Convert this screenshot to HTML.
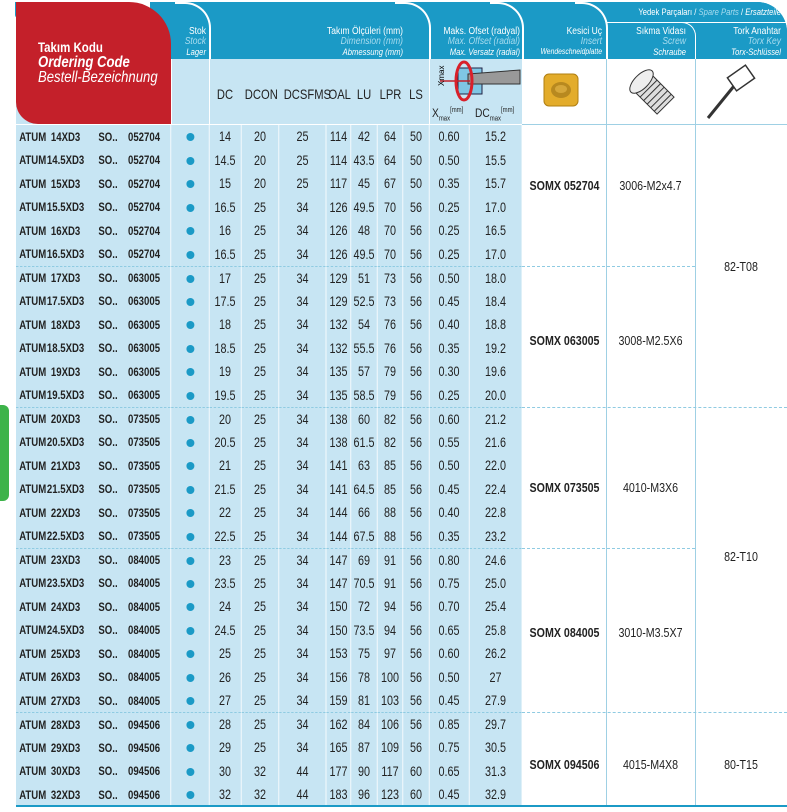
<!DOCTYPE html>
<html><head><meta charset="utf-8">
<style>
*{margin:0;padding:0;box-sizing:border-box}
body{width:787px;height:812px;background:#fff;position:relative;overflow:hidden;font-family:"Liberation Sans",sans-serif;color:#222}
.abs{position:absolute}
.blue{background:#1b9ac6}
.lb{background:#c7e5f3}
table{position:absolute;left:16px;top:125px;width:632.5px;border-collapse:collapse;table-layout:fixed;font-size:13.5px;transform:scaleX(0.8);transform-origin:0 0}
td{height:23.5px;text-align:center;border-right:1.25px solid #fff;padding:0;white-space:nowrap;overflow:visible}
td.c{text-align:left;font-weight:bold;font-size:12px;padding-left:4px}
td.c span{display:inline-block}
.s1{width:34px}.s2{width:48px;text-align:center}.s3{width:54px;padding-left:17px}
tr.g td{border-top:1px dashed #8fcbe2}
.dot{display:inline-block;width:10px;height:8px;border-radius:50%;background:#1b9ac6}
.hd{font-size:14px;text-align:center;transform:scaleX(.8);white-space:nowrap}
.wt{color:#fff;font-size:10px;text-align:right;line-height:10px;white-space:nowrap;transform:scaleX(.85);transform-origin:right top}
.rc{position:absolute;font-size:13px;text-align:center;white-space:nowrap;transform:scaleX(.82)}
</style></head><body>
<div class="abs" style="left:0;top:405px;width:9px;height:96px;background:#3db34a;border-radius:0 6px 6px 0"></div>
<div class="abs lb" style="left:16px;top:59px;width:506px;height:747px"></div>
<div class="abs blue" style="left:150px;top:2px;width:637px;height:57px;border-top-right-radius:30px"></div>
<div class="abs blue" style="left:606px;top:2px;width:181px;height:122px;border-top-right-radius:30px"></div>
<div class="abs" style="left:606px;top:59px;width:181px;height:65px;background:#fff"></div>
<div class="abs" style="left:522px;top:59px;width:84px;height:65px;background:#fff"></div>
<div class="abs" style="left:175px;top:2px;width:36px;height:57px;border-top:2px solid #fff;border-right:2px solid #fff;border-top-right-radius:26px"></div>
<div class="abs" style="left:395px;top:2px;width:36px;height:57px;border-top:2px solid #fff;border-right:2px solid #fff;border-top-right-radius:26px"></div>
<div class="abs" style="left:490px;top:2px;width:34px;height:57px;border-top:2px solid #fff;border-right:2px solid #fff;border-top-right-radius:26px"></div>
<div class="abs" style="left:575px;top:2px;width:33px;height:57px;border-top:2px solid #fff;border-right:2px solid #fff;border-top-right-radius:26px"></div>
<div class="abs" style="left:606px;top:22px;width:181px;height:1px;background:#fff"></div>
<div class="abs" style="left:660px;top:22px;width:36px;height:37px;border-top:1px solid #fff;border-right:1px solid #fff;border-top-right-radius:14px"></div>
<div class="abs blue" style="left:13px;top:0;width:23px;height:20px;border-radius:0 0 5px 5px;border:2px solid #fff"></div>
<div class="abs" style="left:16px;top:2px;width:155px;height:122px;background:#c4202a;border-top-right-radius:42px;border-bottom-left-radius:22px"></div>
<div class="abs" style="left:38px;top:40px;color:#fff;line-height:15px;white-space:nowrap;transform:scaleX(.82);transform-origin:0 0">
<div style="font-weight:bold;font-size:14px">Takım Kodu</div>
<div style="font-weight:bold;font-style:italic;font-size:16px">Ordering Code</div>
<div style="font-style:italic;font-size:16px">Bestell-Bezeichnung</div></div>
<div class="abs wt" style="left:171px;top:27px;width:35px">Stok<br><i style="color:#a8dcef">Stock</i><br><i style="font-size:9px">Lager</i></div>
<div class="abs wt" style="left:230px;top:27px;width:173px">Takım Ölçüleri (mm)<br><i style="color:#a8dcef">Dimension (mm)</i><br><i style="font-size:9px">Abmessung (mm)</i></div>
<div class="abs wt" style="left:425px;top:27px;width:95px">Maks. Ofset (radyal)<br><i style="color:#a8dcef">Max. Offset (radial)</i><br><i style="font-size:9px">Max. Versatz (radial)</i></div>
<div class="abs wt" style="left:520px;top:27px;width:82px">Kesici Uç<br><i style="color:#a8dcef">Insert</i><br><i style="font-size:8px">Wendeschneidplatte</i></div>
<div class="abs wt" style="left:606px;top:7px;width:175px;font-size:9px">Yedek Parçaları / <i style="color:#a8dcef">Spare Parts</i> / <i>Ersatzteile</i></div>
<div class="abs wt" style="left:606px;top:27px;width:80px">Sıkma Vidası<br><i style="color:#a8dcef">Screw</i><br><i style="font-size:9px">Schraube</i></div>
<div class="abs wt" style="left:695px;top:27px;width:86px">Tork Anahtar<br><i style="color:#a8dcef">Torx Key</i><br><i style="font-size:9px">Torx-Schlüssel</i></div>
<div class="abs hd" style="left:209px;top:86px;width:32px">DC</div>
<div class="abs hd" style="left:241px;top:86px;width:38px">DCON</div>
<div class="abs hd" style="left:279px;top:86px;width:47px">DCSFMS</div>
<div class="abs hd" style="left:326px;top:86px;width:25px">OAL</div>
<div class="abs hd" style="left:351px;top:86px;width:26px">LU</div>
<div class="abs hd" style="left:377px;top:86px;width:26px">LPR</div>
<div class="abs hd" style="left:403px;top:86px;width:26px">LS</div>
<div class="abs" style="left:432px;top:106px;font-size:12px;transform:scaleX(.85);transform-origin:0 0">X<sub style="font-size:7px">max</sub><sup style="font-size:7px">[mm]</sup></div>
<div class="abs" style="left:475px;top:106px;font-size:12px;transform:scaleX(.85);transform-origin:0 0">DC<sub style="font-size:7px">max</sub><sup style="font-size:7px">[mm]</sup></div>
<svg class="abs" style="left:430px;top:60px" width="92" height="45">
<rect x="28" y="8" width="24" height="26" fill="#7fc6e4" stroke="#224" stroke-width="1"/>
<polygon points="38,14 90,10 90,24 38,24" fill="#999" stroke="#333" stroke-width="1"/>
<line x1="10" y1="21" x2="40" y2="21" stroke="#c4202a" stroke-width="1.5"/>
<ellipse cx="34" cy="21" rx="8" ry="19" fill="none" stroke="#d9202a" stroke-width="3"/>
<text x="14" y="26" font-size="8" transform="rotate(-90 14 26)" font-family="Liberation Sans">Xmax</text>
</svg>
<svg class="abs" style="left:542px;top:72px" width="38" height="36"><rect x="2" y="2" width="34" height="32" rx="5" fill="#e3ac2b" stroke="#b07f12"/><ellipse cx="19" cy="18" rx="10" ry="8" fill="#b8891f"/><ellipse cx="19" cy="17" rx="6" ry="4" fill="#d6a73a"/></svg>
<svg class="abs" style="left:620px;top:62px" width="60" height="55"><g transform="rotate(-45 30 28)"><rect x="18" y="20" width="24" height="30" fill="#ddd" stroke="#333"/><g stroke="#333"><line x1="18" y1="26" x2="42" y2="26"/><line x1="18" y1="31" x2="42" y2="31"/><line x1="18" y1="36" x2="42" y2="36"/><line x1="18" y1="41" x2="42" y2="41"/><line x1="18" y1="46" x2="42" y2="46"/></g><ellipse cx="30" cy="16" rx="15" ry="7" fill="#eee" stroke="#333"/></g></svg>
<svg class="abs" style="left:700px;top:62px" width="60" height="60"><line x1="8" y1="56" x2="34" y2="24" stroke="#333" stroke-width="3"/><rect x="30" y="8" width="22" height="16" fill="#fff" stroke="#333" stroke-width="1.5" transform="rotate(-35 41 16)"/></svg>

<table>
<colgroup><col style="width:193.75px"><col style="width:47.5px"><col style="width:40px"><col style="width:47.5px"><col style="width:58.75px"><col style="width:31.25px"><col style="width:32.5px"><col style="width:32.5px"><col style="width:32.5px"><col style="width:50px"><col style="width:66.25px"></colgroup>
<tr><td class="c"><span class="s1">ATUM</span><span class="s2">14XD3</span><span class="s3">SO..</span>052704</td><td><i class="dot"></i></td><td>14</td><td>20</td><td>25</td><td>114</td><td>42</td><td>64</td><td>50</td><td>0.60</td><td>15.2</td></tr>
<tr><td class="c"><span class="s1">ATUM</span><span class="s2">14.5XD3</span><span class="s3">SO..</span>052704</td><td><i class="dot"></i></td><td>14.5</td><td>20</td><td>25</td><td>114</td><td>43.5</td><td>64</td><td>50</td><td>0.50</td><td>15.5</td></tr>
<tr><td class="c"><span class="s1">ATUM</span><span class="s2">15XD3</span><span class="s3">SO..</span>052704</td><td><i class="dot"></i></td><td>15</td><td>20</td><td>25</td><td>117</td><td>45</td><td>67</td><td>50</td><td>0.35</td><td>15.7</td></tr>
<tr><td class="c"><span class="s1">ATUM</span><span class="s2">15.5XD3</span><span class="s3">SO..</span>052704</td><td><i class="dot"></i></td><td>16.5</td><td>25</td><td>34</td><td>126</td><td>49.5</td><td>70</td><td>56</td><td>0.25</td><td>17.0</td></tr>
<tr><td class="c"><span class="s1">ATUM</span><span class="s2">16XD3</span><span class="s3">SO..</span>052704</td><td><i class="dot"></i></td><td>16</td><td>25</td><td>34</td><td>126</td><td>48</td><td>70</td><td>56</td><td>0.25</td><td>16.5</td></tr>
<tr><td class="c"><span class="s1">ATUM</span><span class="s2">16.5XD3</span><span class="s3">SO..</span>052704</td><td><i class="dot"></i></td><td>16.5</td><td>25</td><td>34</td><td>126</td><td>49.5</td><td>70</td><td>56</td><td>0.25</td><td>17.0</td></tr>
<tr class="g"><td class="c"><span class="s1">ATUM</span><span class="s2">17XD3</span><span class="s3">SO..</span>063005</td><td><i class="dot"></i></td><td>17</td><td>25</td><td>34</td><td>129</td><td>51</td><td>73</td><td>56</td><td>0.50</td><td>18.0</td></tr>
<tr><td class="c"><span class="s1">ATUM</span><span class="s2">17.5XD3</span><span class="s3">SO..</span>063005</td><td><i class="dot"></i></td><td>17.5</td><td>25</td><td>34</td><td>129</td><td>52.5</td><td>73</td><td>56</td><td>0.45</td><td>18.4</td></tr>
<tr><td class="c"><span class="s1">ATUM</span><span class="s2">18XD3</span><span class="s3">SO..</span>063005</td><td><i class="dot"></i></td><td>18</td><td>25</td><td>34</td><td>132</td><td>54</td><td>76</td><td>56</td><td>0.40</td><td>18.8</td></tr>
<tr><td class="c"><span class="s1">ATUM</span><span class="s2">18.5XD3</span><span class="s3">SO..</span>063005</td><td><i class="dot"></i></td><td>18.5</td><td>25</td><td>34</td><td>132</td><td>55.5</td><td>76</td><td>56</td><td>0.35</td><td>19.2</td></tr>
<tr><td class="c"><span class="s1">ATUM</span><span class="s2">19XD3</span><span class="s3">SO..</span>063005</td><td><i class="dot"></i></td><td>19</td><td>25</td><td>34</td><td>135</td><td>57</td><td>79</td><td>56</td><td>0.30</td><td>19.6</td></tr>
<tr><td class="c"><span class="s1">ATUM</span><span class="s2">19.5XD3</span><span class="s3">SO..</span>063005</td><td><i class="dot"></i></td><td>19.5</td><td>25</td><td>34</td><td>135</td><td>58.5</td><td>79</td><td>56</td><td>0.25</td><td>20.0</td></tr>
<tr class="g"><td class="c"><span class="s1">ATUM</span><span class="s2">20XD3</span><span class="s3">SO..</span>073505</td><td><i class="dot"></i></td><td>20</td><td>25</td><td>34</td><td>138</td><td>60</td><td>82</td><td>56</td><td>0.60</td><td>21.2</td></tr>
<tr><td class="c"><span class="s1">ATUM</span><span class="s2">20.5XD3</span><span class="s3">SO..</span>073505</td><td><i class="dot"></i></td><td>20.5</td><td>25</td><td>34</td><td>138</td><td>61.5</td><td>82</td><td>56</td><td>0.55</td><td>21.6</td></tr>
<tr><td class="c"><span class="s1">ATUM</span><span class="s2">21XD3</span><span class="s3">SO..</span>073505</td><td><i class="dot"></i></td><td>21</td><td>25</td><td>34</td><td>141</td><td>63</td><td>85</td><td>56</td><td>0.50</td><td>22.0</td></tr>
<tr><td class="c"><span class="s1">ATUM</span><span class="s2">21.5XD3</span><span class="s3">SO..</span>073505</td><td><i class="dot"></i></td><td>21.5</td><td>25</td><td>34</td><td>141</td><td>64.5</td><td>85</td><td>56</td><td>0.45</td><td>22.4</td></tr>
<tr><td class="c"><span class="s1">ATUM</span><span class="s2">22XD3</span><span class="s3">SO..</span>073505</td><td><i class="dot"></i></td><td>22</td><td>25</td><td>34</td><td>144</td><td>66</td><td>88</td><td>56</td><td>0.40</td><td>22.8</td></tr>
<tr><td class="c"><span class="s1">ATUM</span><span class="s2">22.5XD3</span><span class="s3">SO..</span>073505</td><td><i class="dot"></i></td><td>22.5</td><td>25</td><td>34</td><td>144</td><td>67.5</td><td>88</td><td>56</td><td>0.35</td><td>23.2</td></tr>
<tr class="g"><td class="c"><span class="s1">ATUM</span><span class="s2">23XD3</span><span class="s3">SO..</span>084005</td><td><i class="dot"></i></td><td>23</td><td>25</td><td>34</td><td>147</td><td>69</td><td>91</td><td>56</td><td>0.80</td><td>24.6</td></tr>
<tr><td class="c"><span class="s1">ATUM</span><span class="s2">23.5XD3</span><span class="s3">SO..</span>084005</td><td><i class="dot"></i></td><td>23.5</td><td>25</td><td>34</td><td>147</td><td>70.5</td><td>91</td><td>56</td><td>0.75</td><td>25.0</td></tr>
<tr><td class="c"><span class="s1">ATUM</span><span class="s2">24XD3</span><span class="s3">SO..</span>084005</td><td><i class="dot"></i></td><td>24</td><td>25</td><td>34</td><td>150</td><td>72</td><td>94</td><td>56</td><td>0.70</td><td>25.4</td></tr>
<tr><td class="c"><span class="s1">ATUM</span><span class="s2">24.5XD3</span><span class="s3">SO..</span>084005</td><td><i class="dot"></i></td><td>24.5</td><td>25</td><td>34</td><td>150</td><td>73.5</td><td>94</td><td>56</td><td>0.65</td><td>25.8</td></tr>
<tr><td class="c"><span class="s1">ATUM</span><span class="s2">25XD3</span><span class="s3">SO..</span>084005</td><td><i class="dot"></i></td><td>25</td><td>25</td><td>34</td><td>153</td><td>75</td><td>97</td><td>56</td><td>0.60</td><td>26.2</td></tr>
<tr><td class="c"><span class="s1">ATUM</span><span class="s2">26XD3</span><span class="s3">SO..</span>084005</td><td><i class="dot"></i></td><td>26</td><td>25</td><td>34</td><td>156</td><td>78</td><td>100</td><td>56</td><td>0.50</td><td>27</td></tr>
<tr><td class="c"><span class="s1">ATUM</span><span class="s2">27XD3</span><span class="s3">SO..</span>084005</td><td><i class="dot"></i></td><td>27</td><td>25</td><td>34</td><td>159</td><td>81</td><td>103</td><td>56</td><td>0.45</td><td>27.9</td></tr>
<tr class="g"><td class="c"><span class="s1">ATUM</span><span class="s2">28XD3</span><span class="s3">SO..</span>094506</td><td><i class="dot"></i></td><td>28</td><td>25</td><td>34</td><td>162</td><td>84</td><td>106</td><td>56</td><td>0.85</td><td>29.7</td></tr>
<tr><td class="c"><span class="s1">ATUM</span><span class="s2">29XD3</span><span class="s3">SO..</span>094506</td><td><i class="dot"></i></td><td>29</td><td>25</td><td>34</td><td>165</td><td>87</td><td>109</td><td>56</td><td>0.75</td><td>30.5</td></tr>
<tr><td class="c"><span class="s1">ATUM</span><span class="s2">30XD3</span><span class="s3">SO..</span>094506</td><td><i class="dot"></i></td><td>30</td><td>32</td><td>44</td><td>177</td><td>90</td><td>117</td><td>60</td><td>0.65</td><td>31.3</td></tr>
<tr><td class="c"><span class="s1">ATUM</span><span class="s2">32XD3</span><span class="s3">SO..</span>094506</td><td><i class="dot"></i></td><td>32</td><td>32</td><td>44</td><td>183</td><td>96</td><td>123</td><td>60</td><td>0.45</td><td>32.9</td></tr>
</table>
<div class="abs" style="left:171px;top:59px;width:1px;height:66px;background:#fff"></div>
<div class="abs" style="left:209px;top:59px;width:1px;height:66px;background:#fff"></div>
<div class="abs" style="left:429px;top:59px;width:1px;height:66px;background:#fff"></div>
<div class="abs" style="left:16px;top:124px;width:506px;height:1px;background:#fff"></div>
<div class="abs" style="left:606px;top:59px;width:1px;height:747px;background:#9fd0e4"></div>
<div class="abs" style="left:695px;top:59px;width:1px;height:747px;background:#9fd0e4"></div>
<div class="abs" style="left:522px;top:124px;width:265px;height:1px;background:#9fd0e4"></div>
<div class="abs" style="left:522px;top:266px;width:173px;border-top:1px dashed #8fcbe2"></div>
<div class="abs" style="left:522px;top:407px;width:265px;border-top:1px dashed #8fcbe2"></div>
<div class="abs" style="left:522px;top:548px;width:173px;border-top:1px dashed #8fcbe2"></div>
<div class="abs" style="left:522px;top:712px;width:265px;border-top:1px dashed #8fcbe2"></div>
<div class="abs" style="left:16px;top:805px;width:771px;height:2px;background:#1b9ac6"></div>
<div class="rc" style="left:522px;top:178px;width:84px;font-weight:bold">SOMX 052704</div>
<div class="rc" style="left:606px;top:178px;width:89px">3006-M2x4.7</div>
<div class="rc" style="left:522px;top:333px;width:84px;font-weight:bold">SOMX 063005</div>
<div class="rc" style="left:606px;top:333px;width:89px">3008-M2.5X6</div>
<div class="rc" style="left:522px;top:480px;width:84px;font-weight:bold">SOMX 073505</div>
<div class="rc" style="left:606px;top:480px;width:89px">4010-M3X6</div>
<div class="rc" style="left:522px;top:625px;width:84px;font-weight:bold">SOMX 084005</div>
<div class="rc" style="left:606px;top:625px;width:89px">3010-M3.5X7</div>
<div class="rc" style="left:522px;top:757px;width:84px;font-weight:bold">SOMX 094506</div>
<div class="rc" style="left:606px;top:757px;width:89px">4015-M4X8</div>
<div class="rc" style="left:695px;top:259px;width:92px">82-T08</div>
<div class="rc" style="left:695px;top:549px;width:92px">82-T10</div>
<div class="rc" style="left:695px;top:757px;width:92px">80-T15</div>
</body></html>
